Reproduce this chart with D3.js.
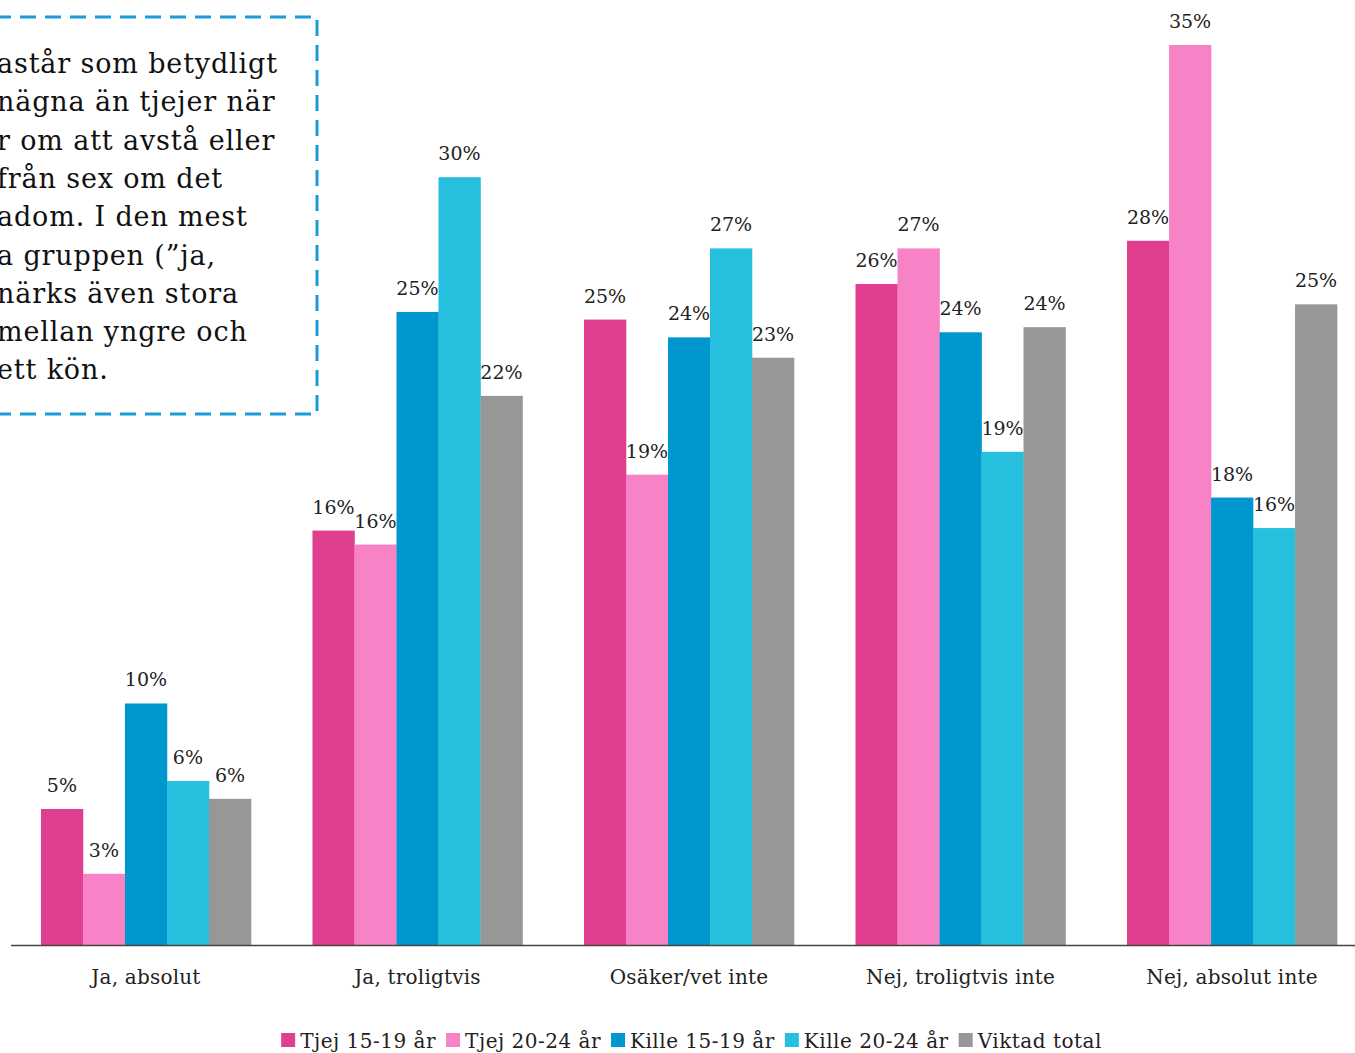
<!DOCTYPE html>
<html>
<head>
<meta charset="utf-8">
<script src="https://cdn.jsdelivr.net/npm/d3@7"></script>
<style>
  html, body { margin: 0; padding: 0; background: #fff; overflow: hidden; }
  svg { display: block; font-family: "DejaVu Serif", serif; }
</style>
</head>
<body>
<div id="chart"></div>
<script>
// Data
const categories = ['Ja, absolut', 'Ja, troligtvis', 'Osäker/vet inte', 'Nej, troligtvis inte', 'Nej, absolut inte'];
const seriesNames = ['Tjej 15-19 år', 'Tjej 20-24 år', 'Kille 15-19 år', 'Kille 20-24 år', 'Viktad total'];
const seriesColors = ['#e03e8e', '#f783c6', '#0097cf', '#26c0de', '#979797'];
const tjej1519 = [5.35, 16.3, 24.6, 26.0, 27.7];
const tjej2024 = [2.8, 15.75, 18.5, 27.4, 35.4];
const kille1519 = [9.5, 24.9, 23.9, 24.1, 17.6];
const kille2024 = [6.45, 30.2, 27.4, 19.4, 16.4];
const viktad = [5.75, 21.6, 23.1, 24.3, 25.2];
const seriesValues = [tjej1519, tjej2024, kille1519, kille2024, viktad];

// Textruta, vänsterkanten är avklippt i originalet
const boxLines = ['astår som betydligt', 'nägna än tjejer när', 'r om att avstå eller', 'från sex om det',
  'adom. I den mest', 'a gruppen (”ja,', 'närks även stora', 'mellan yngre och', 'ett kön.'];

const width = 1355, height = 1053;
const baseY = 945;

const svg = d3.select('#chart').append('svg')
  .attr('width', width)
  .attr('height', height);

const x0 = d3.scaleBand()
  .domain(categories)
  .range([10, 1368])
  .paddingInner(0.2265)
  .paddingOuter(0.114);

const x1 = d3.scaleBand()
  .domain(seriesNames)
  .range([0, x0.bandwidth()]);

const y = d3.scaleLinear()
  .domain([0, 35.4])
  .range([baseY, 45]);

// Staplar
const groups = svg.append('g')
  .selectAll('g')
  .data(categories)
  .enter().append('g')
  .attr('transform', d => `translate(${x0(d)},0)`);

const cells = (c, ci) => seriesNames.map((s, si) => ({ s, si, v: seriesValues[si][ci] }));

groups.selectAll('rect')
  .data(cells)
  .enter().append('rect')
  .attr('x', d => x1(d.s))
  .attr('y', d => y(d.v))
  .attr('width', x1.bandwidth() + 0.3)
  .attr('height', d => baseY - y(d.v))
  .attr('fill', d => seriesColors[d.si]);

groups.selectAll('text')
  .data(cells)
  .enter().append('text')
  .attr('x', d => x1(d.s) + x1.bandwidth() / 2)
  .attr('y', d => y(d.v) - 17)
  .attr('text-anchor', 'middle')
  .style('font-size', '19px')
  .attr('fill', '#222')
  .text(d => Math.round(d.v) + '%');

// Axellinje
svg.append('line')
  .attr('x1', 11).attr('x2', width)
  .attr('y1', baseY + 0.5).attr('y2', baseY + 0.5)
  .attr('stroke', '#444')
  .attr('stroke-width', 1.5);

// Kategorier
svg.append('g')
  .selectAll('text')
  .data(categories)
  .enter().append('text')
  .attr('x', d => x0(d) + x0.bandwidth() / 2)
  .attr('y', 984)
  .attr('text-anchor', 'middle')
  .style('font-size', '20px')
  .style('letter-spacing', '0.2px')
  .attr('fill', '#222')
  .text(d => d);

// Legend
const legend = svg.append('g');
let lx = 0;
seriesNames.forEach((s, i) => {
  const g = legend.append('g');
  g.append('rect').attr('x', 0).attr('y', -15).attr('width', 14).attr('height', 14).attr('fill', seriesColors[i]);
  const t = g.append('text').attr('x', 19).attr('y', 0)
    .style('font-size', '20px').style('letter-spacing', '0.5px')
    .attr('fill', '#222').text(s);
  const w = 19 + t.node().getComputedTextLength();
  g.attr('transform', `translate(${lx},0)`);
  lx += w + 10;
});
const legendW = lx - 10;
legend.attr('transform', `translate(${(width - legendW) / 2 + 14},1048)`);

// Textruta
const box = svg.append('g');
box.append('rect')
  .attr('x', -30).attr('y', 17)
  .attr('width', 347).attr('height', 397)
  .attr('fill', 'none')
  .attr('stroke', '#1b9bd7')
  .attr('stroke-width', 3)
  .attr('stroke-dasharray', '16,9');

box.selectAll('text')
  .data(boxLines)
  .enter().append('text')
  .attr('x', -3)
  .attr('y', (d, i) => 73 + i * 38.3)
  .style('font-size', '27px')
  .style('letter-spacing', '0.85px')
  .attr('fill', '#111')
  .text(d => d);
</script>
</body>
</html>
